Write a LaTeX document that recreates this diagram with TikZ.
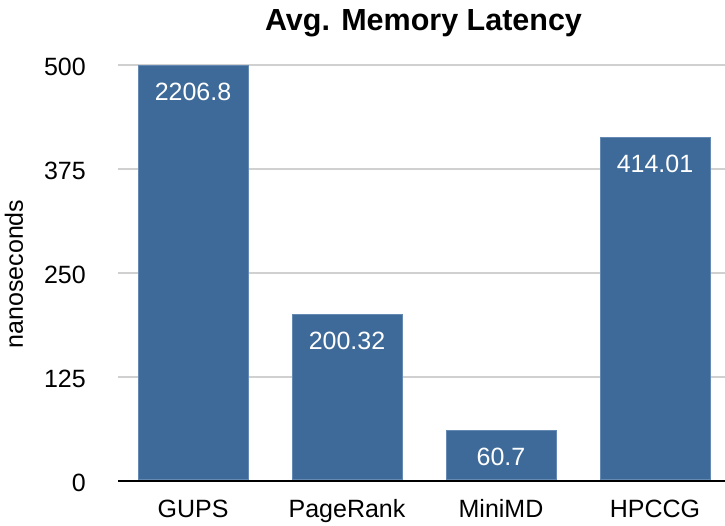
\documentclass[tikz,border=0pt]{standalone}
\usepackage{fontspec}
\setmainfont{Liberation Sans}
\definecolor{barblue}{RGB}{62,106,153}
\definecolor{baredge}{RGB}{100,138,180}
\definecolor{gridgray}{RGB}{208,208,208}
\begin{document}
\begin{tikzpicture}[x=1pt,y=-1pt,
  bar/.style={draw=baredge,line width=0.8pt,fill=barblue,minimum width=110pt,inner sep=0pt,anchor=south},
  vallab/.style={text=white,anchor=base,inner sep=0pt,font=\fontsize{25}{29}\selectfont},
  ticklab/.style={anchor=base east,inner sep=0pt,font=\fontsize{25}{29}\selectfont},
  catlab/.style={anchor=base,inner sep=0pt,font=\fontsize{25}{29}\selectfont},
  gridline/.style={draw=gridgray,line width=1.6pt}]
\useasboundingbox[fill=white] (0,0) rectangle (725,525);
% grid
\coordinate (g500a) at (118,65);  \coordinate (g500b) at (725,65);
\coordinate (g375a) at (118,169); \coordinate (g375b) at (725,169);
\coordinate (g250a) at (118,273); \coordinate (g250b) at (725,273);
\coordinate (g125a) at (118,377); \coordinate (g125b) at (725,377);
\coordinate (g0a) at (118,481);   \coordinate (g0b) at (725,481);
\draw[gridline,line width=2pt] (g500a) -- (g500b);
\draw[gridline] (g375a) -- (g375b);
\draw[gridline] (g250a) -- (g250b);
\draw[gridline] (g125a) -- (g125b);
% bars
\node[bar,minimum height=414pt] (b1) at (193,480) {};
\node[bar,minimum height=165pt] (b2) at (347,480) {};
\node[bar,minimum height=49pt]  (b3) at (501,480) {};
\node[bar,minimum height=342pt] (b4) at (655,480) {};
% axis
\draw[black,line width=1.8pt] (g0a) -- (g0b);
% value labels
\node[vallab] (v1) at (193,100) {2206.8};
\node[vallab] (v2) at (347,349) {200.32};
\node[vallab] (v3) at (501,465) {60.7};
\node[vallab] (v4) at (655,172) {414.01};
% tick labels
\node[ticklab] (t500) at (86,75) {500};
\node[ticklab] (t375) at (86,179) {375};
\node[ticklab] (t250) at (86,283) {250};
\node[ticklab] (t125) at (86,387) {125};
\node[ticklab] (t0) at (86,491) {0};
% category labels
\node[catlab] (c1) at (193,517) {GUPS};
\node[catlab] (c2) at (347,517) {PageRank};
\node[catlab] (c3) at (501,517) {MiniMD};
\node[catlab] (c4) at (655,517) {HPCCG};
% axis title
\node[catlab,rotate=90] (ylab) at (23,274) {nanoseconds};
% title
\node[anchor=base,inner sep=0pt,font=\fontsize{30.5}{34}\selectfont\bfseries] (title) at (423.5,30) {Avg. Memory Latency};
\end{tikzpicture}
\end{document}
